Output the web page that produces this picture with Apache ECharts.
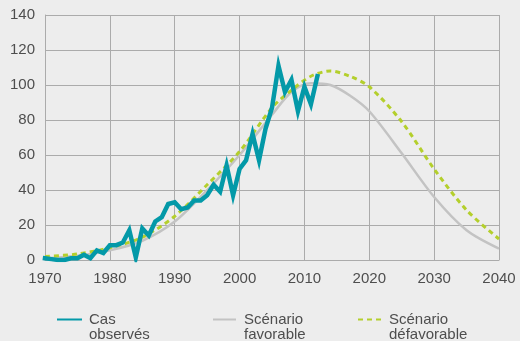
<!DOCTYPE html>
<html>
<head>
<meta charset="utf-8">
<style>
  html, body { margin: 0; padding: 0; background: #ededed; }
  #chart { width: 520px; height: 341px; }
</style>
<script src="https://cdn.jsdelivr.net/npm/echarts@6/dist/echarts.min.js"></script>
</head>
<body>
<div id="chart"></div>
<script>
// Observed cases, one value per year
const observedYears = [1970,1971,1972,1973,1974,1975,1976,1977,1978,1979,
  1980,1981,1982,1983,1984,1985,1986,1987,1988,1989,
  1990,1991,1992,1993,1994,1995,1996,1997,1998,1999,
  2000,2001,2002,2003,2004,2005,2006,2007,2008,2009,
  2010,2011,2012];
const observed = [1,0.5,0,0,1,1,3,1,5.5,4,
  8.5,8.5,10,17,1.5,18,14,22,24.5,32,
  33,29,30,34,34,37,43,39,54,37,
  52,57,72,57,75,87,111,96,103,85,
  99,89,105];

// Projection scenarios
const scenarioYears = [1970,1975,1980,1985,1990,1995,2000,2005,2008,2011,2014,2017,2020,2025,2030,2035,2040];
const favorable   = [1, 2.5, 5.5, 11, 22, 40, 60, 83, 96, 101, 100, 94, 85, 61, 36, 17, 6.5];
const unfavorable = [2, 3.4, 7, 13, 25, 43, 62, 87, 97, 105, 108, 105, 99, 79, 52, 28.5, 12];

const seriesNames = ['Cas\nobservés', 'Scénario\nfavorable', 'Scénario\ndéfavorable'];
const xTicks = { min: 1970, max: 2040, step: 10 };
const yTicks = { min: 0, max: 140, step: 20 };

const pairs = (xs, ys) => xs.map((x, i) => [x, ys[i]]);

const gridColor = '#ababab';
const textColor = '#4e4e4e';
const fontFamily = '"Liberation Sans", Arial, Helvetica, sans-serif';

// One legend block per series. A blank leading line keeps the first
// line of each two-line label level with its icon.
const legendBase = {
  orient: 'horizontal',
  top: 297,
  padding: 0,
  itemWidth: 23,
  itemHeight: 10,
  itemGap: 0,
  selectedMode: false,
  itemStyle: { opacity: 0, borderWidth: 0 },
  formatter: (name) => ' \n' + name,
  textStyle: {
    color: textColor,
    fontFamily: fontFamily,
    fontSize: 15,
    lineHeight: 15,
    padding: [0, 0, 0, 3]
  }
};

const chart = echarts.init(document.getElementById('chart'), null, { renderer: 'canvas' });
chart.setOption({
  backgroundColor: '#ededed',
  animation: false,
  grid: { left: 45, right: 21, top: 15, bottom: 81 },
  legend: [
    Object.assign({}, legendBase, { left: 57, data: [seriesNames[0]] }),
    Object.assign({}, legendBase, { left: 212, data: [seriesNames[1]] }),
    Object.assign({}, legendBase, { left: 357, data: [seriesNames[2]] })
  ],
  xAxis: {
    type: 'value',
    min: xTicks.min, max: xTicks.max, interval: xTicks.step,
    axisLine: { show: true, lineStyle: { color: gridColor, width: 1 } },
    axisTick: { show: false },
    splitLine: { show: true, lineStyle: { color: gridColor, width: 1 } },
    axisLabel: {
      color: textColor, fontFamily: fontFamily, fontSize: 15, margin: 11,
      formatter: (v) => String(v)
    }
  },
  yAxis: {
    type: 'value',
    min: yTicks.min, max: yTicks.max, interval: yTicks.step,
    axisLine: { show: true, lineStyle: { color: gridColor, width: 1 } },
    axisTick: { show: false },
    splitLine: { show: true, lineStyle: { color: gridColor, width: 1 } },
    axisLabel: { color: textColor, fontFamily: fontFamily, fontSize: 15, margin: 10 }
  },
  series: [
    {
      name: seriesNames[1],
      type: 'line',
      data: pairs(scenarioYears, favorable),
      smooth: 0.3,
      symbol: 'none',
      z: 2,
      lineStyle: { color: '#c3c3c3', width: 2.5 },
      itemStyle: { color: '#c3c3c3' }
    },
    {
      name: seriesNames[2],
      type: 'line',
      data: pairs(scenarioYears, unfavorable),
      smooth: 0.3,
      symbol: 'none',
      z: 3,
      lineStyle: { color: '#b4cf2c', width: 3, type: [5, 4] },
      itemStyle: { color: '#b4cf2c' }
    },
    {
      name: seriesNames[0],
      type: 'line',
      data: pairs(observedYears, observed),
      symbol: 'none',
      z: 4,
      lineStyle: { color: '#0399a8', width: 4.5, cap: 'square', join: 'miter' },
      itemStyle: { color: '#0399a8' }
    }
  ]
});
</script>
</body>
</html>
